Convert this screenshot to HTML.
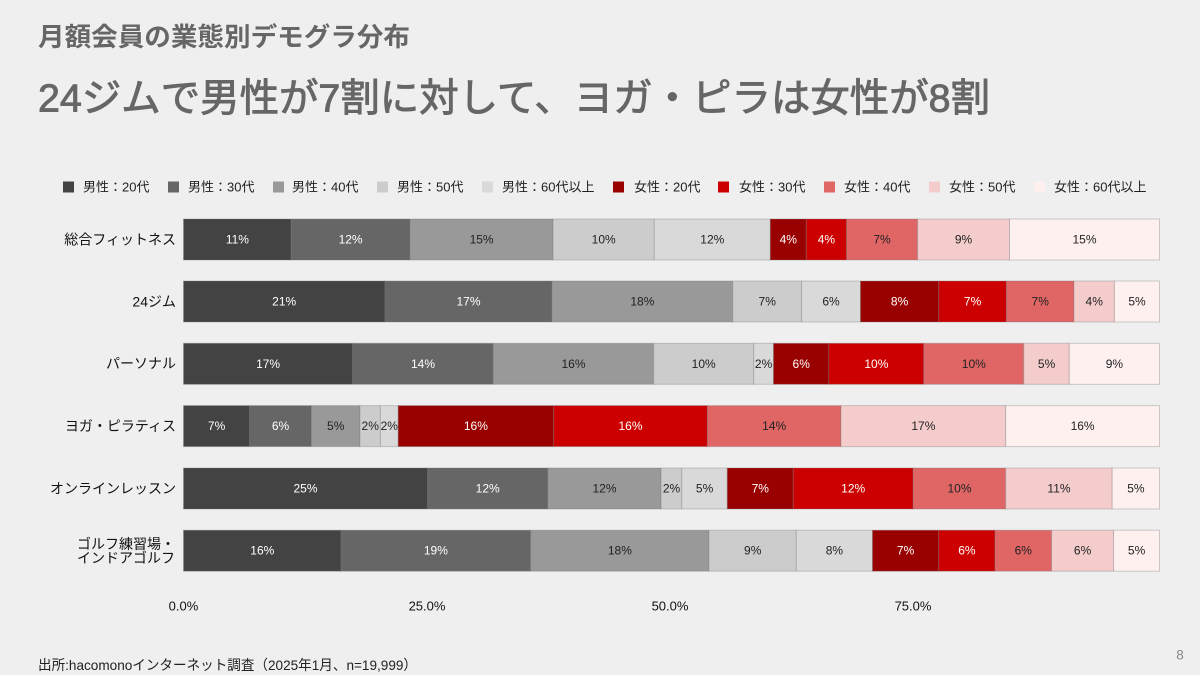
<!DOCTYPE html>
<html>
<head>
<meta charset="utf-8">
<style>
  html, body { margin: 0; padding: 0; background: #efefef; }
  body { width: 1200px; height: 675px; overflow: hidden; }
  svg { display: block; }
  text { font-family: "Liberation Sans", "Noto Sans CJK JP", sans-serif; }
</style>
</head>
<body>
<svg width="1200" height="675" viewBox="0 0 1200 675" xmlns="http://www.w3.org/2000/svg">
  <rect x="0" y="0" width="1200" height="675" fill="#efefef"/>

  <!-- Titles -->
  <text x="38" y="37" font-size="26" font-weight="bold" fill="#666666" dominant-baseline="central" textLength="372" lengthAdjust="spacingAndGlyphs">月額会員の業態別デモグラ分布</text>
  <text x="38" y="99" font-size="39" font-weight="normal" fill="#666666" stroke="#666666" stroke-width="0.9" dominant-baseline="central" textLength="952" lengthAdjust="spacingAndGlyphs">24ジムで男性が7割に対して、ヨガ・ピラは女性が8割</text>

  <!-- Legend -->
  <g font-size="13" fill="#222" dominant-baseline="central">
    <rect x="63" y="181.5" width="11" height="11" fill="#434343"/><text x="83" y="187">男性：20代</text>
    <rect x="168" y="181.5" width="11" height="11" fill="#666666"/><text x="188" y="187">男性：30代</text>
    <rect x="273" y="181.5" width="11" height="11" fill="#999999"/><text x="292" y="187">男性：40代</text>
    <rect x="377" y="181.5" width="11" height="11" fill="#cccccc"/><text x="397" y="187">男性：50代</text>
    <rect x="482" y="181.5" width="11" height="11" fill="#d9d9d9"/><text x="502" y="187">男性：60代以上</text>
    <rect x="613" y="181.5" width="11" height="11" fill="#990000"/><text x="634" y="187">女性：20代</text>
    <rect x="718" y="181.5" width="11" height="11" fill="#cc0000"/><text x="739" y="187">女性：30代</text>
    <rect x="824" y="181.5" width="11" height="11" fill="#e06666"/><text x="844" y="187">女性：40代</text>
    <rect x="929" y="181.5" width="11" height="11" fill="#f4cccc"/><text x="949" y="187">女性：50代</text>
    <rect x="1034" y="181.5" width="11" height="11" fill="#fff0f0"/><text x="1054" y="187">女性：60代以上</text>
  </g>

  <!-- Category labels -->
  <g font-size="14" fill="#111" text-anchor="end" dominant-baseline="central">
    <text x="176" y="239.5">総合フィットネス</text>
    <text x="176" y="301.5">24ジム</text>
    <text x="176" y="363.5">パーソナル</text>
    <text x="176" y="426">ヨガ・ピラティス</text>
    <text x="176" y="488.5">オンラインレッスン</text>
    <text x="175" y="544">ゴルフ練習場・</text>
    <text x="175" y="558">インドアゴルフ</text>
  </g>

  <!-- Axis labels -->
  <g font-size="13" fill="#111" text-anchor="middle" dominant-baseline="central">
    <text x="183.5" y="606">0.0%</text>
    <text x="427" y="606">25.0%</text>
    <text x="670" y="606">50.0%</text>
    <text x="913" y="606">75.0%</text>
  </g>

  <!-- Footer -->
  <text x="38" y="665" font-size="14" fill="#222" dominant-baseline="central" textLength="379" lengthAdjust="spacingAndGlyphs">出所:hacomonoインターネット調査（2025年1月、n=19,999）</text>
  <text x="1180" y="655" font-size="13.5" fill="#888" text-anchor="middle" dominant-baseline="central">8</text>

  <!-- Bars -->
  <g stroke="rgba(120,120,120,0.35)" stroke-width="1">
    <!-- Row 1 -->
    <rect x="183.5" y="219" width="107.7" height="41" fill="#434343"/>
    <rect x="291.2" y="219" width="118.8" height="41" fill="#666666"/>
    <rect x="410" y="219" width="143.1" height="41" fill="#999999"/>
    <rect x="553.1" y="219" width="101.2" height="41" fill="#cccccc"/>
    <rect x="654.3" y="219" width="116" height="41" fill="#d9d9d9"/>
    <rect x="770.3" y="219" width="36" height="41" fill="#990000"/>
    <rect x="806.3" y="219" width="40.2" height="41" fill="#cc0000"/>
    <rect x="846.5" y="219" width="71.1" height="41" fill="#e06666"/>
    <rect x="917.6" y="219" width="91.9" height="41" fill="#f4cccc"/>
    <rect x="1009.5" y="219" width="150" height="41" fill="#fff0f0"/>
    <!-- Row 2 -->
    <rect x="183.5" y="281" width="201.5" height="41" fill="#434343"/>
    <rect x="385" y="281" width="167" height="41" fill="#666666"/>
    <rect x="552" y="281" width="180.8" height="41" fill="#999999"/>
    <rect x="732.8" y="281" width="68.8" height="41" fill="#cccccc"/>
    <rect x="801.6" y="281" width="58.9" height="41" fill="#d9d9d9"/>
    <rect x="860.5" y="281" width="78.3" height="41" fill="#990000"/>
    <rect x="938.8" y="281" width="67.6" height="41" fill="#cc0000"/>
    <rect x="1006.4" y="281" width="67.6" height="41" fill="#e06666"/>
    <rect x="1074" y="281" width="40.4" height="41" fill="#f4cccc"/>
    <rect x="1114.4" y="281" width="45.1" height="41" fill="#fff0f0"/>
    <!-- Row 3 -->
    <rect x="183.5" y="343.3" width="169.2" height="41" fill="#434343"/>
    <rect x="352.7" y="343.3" width="140.6" height="41" fill="#666666"/>
    <rect x="493.3" y="343.3" width="160.4" height="41" fill="#999999"/>
    <rect x="653.7" y="343.3" width="100" height="41" fill="#cccccc"/>
    <rect x="753.7" y="343.3" width="19.8" height="41" fill="#d9d9d9"/>
    <rect x="773.5" y="343.3" width="55.4" height="41" fill="#990000"/>
    <rect x="828.9" y="343.3" width="94.9" height="41" fill="#cc0000"/>
    <rect x="923.8" y="343.3" width="100" height="41" fill="#e06666"/>
    <rect x="1023.8" y="343.3" width="45.5" height="41" fill="#f4cccc"/>
    <rect x="1069.3" y="343.3" width="90.2" height="41" fill="#fff0f0"/>
    <!-- Row 4 -->
    <rect x="183.5" y="405.6" width="66.1" height="41" fill="#434343"/>
    <rect x="249.6" y="405.6" width="61.8" height="41" fill="#666666"/>
    <rect x="311.4" y="405.6" width="48.6" height="41" fill="#999999"/>
    <rect x="360" y="405.6" width="20.4" height="41" fill="#cccccc"/>
    <rect x="380.4" y="405.6" width="17.8" height="41" fill="#d9d9d9"/>
    <rect x="398.2" y="405.6" width="155.4" height="41" fill="#990000"/>
    <rect x="553.6" y="405.6" width="153.8" height="41" fill="#cc0000"/>
    <rect x="707.4" y="405.6" width="133.6" height="41" fill="#e06666"/>
    <rect x="841" y="405.6" width="164.7" height="41" fill="#f4cccc"/>
    <rect x="1005.7" y="405.6" width="153.8" height="41" fill="#fff0f0"/>
    <!-- Row 5 -->
    <rect x="183.5" y="468" width="244" height="41" fill="#434343"/>
    <rect x="427.5" y="468" width="120.4" height="41" fill="#666666"/>
    <rect x="547.9" y="468" width="113.2" height="41" fill="#999999"/>
    <rect x="661.1" y="468" width="20.7" height="41" fill="#cccccc"/>
    <rect x="681.8" y="468" width="45.5" height="41" fill="#d9d9d9"/>
    <rect x="727.3" y="468" width="65.9" height="41" fill="#990000"/>
    <rect x="793.2" y="468" width="120" height="41" fill="#cc0000"/>
    <rect x="913.2" y="468" width="92.5" height="41" fill="#e06666"/>
    <rect x="1005.7" y="468" width="106.5" height="41" fill="#f4cccc"/>
    <rect x="1112.2" y="468" width="47.3" height="41" fill="#fff0f0"/>
    <!-- Row 6 -->
    <rect x="183.5" y="530.2" width="157.5" height="41" fill="#434343"/>
    <rect x="341" y="530.2" width="189.7" height="41" fill="#666666"/>
    <rect x="530.7" y="530.2" width="178.3" height="41" fill="#999999"/>
    <rect x="709" y="530.2" width="87.3" height="41" fill="#cccccc"/>
    <rect x="796.3" y="530.2" width="76.2" height="41" fill="#d9d9d9"/>
    <rect x="872.5" y="530.2" width="66.2" height="41" fill="#990000"/>
    <rect x="938.7" y="530.2" width="56.3" height="41" fill="#cc0000"/>
    <rect x="995" y="530.2" width="56.6" height="41" fill="#e06666"/>
    <rect x="1051.6" y="530.2" width="62" height="41" fill="#f4cccc"/>
    <rect x="1113.6" y="530.2" width="45.9" height="41" fill="#fff0f0"/>
  </g>

  <!-- Segment labels -->
  <g font-size="12" text-anchor="middle" dominant-baseline="central">
    <!-- Row 1 -->
    <text x="237.4" y="239.5" fill="#fff">11%</text>
    <text x="350.6" y="239.5" fill="#fff">12%</text>
    <text x="481.6" y="239.5" fill="#222">15%</text>
    <text x="603.7" y="239.5" fill="#222">10%</text>
    <text x="712.3" y="239.5" fill="#222">12%</text>
    <text x="788.3" y="239.5" fill="#fff">4%</text>
    <text x="826.4" y="239.5" fill="#fff">4%</text>
    <text x="882" y="239.5" fill="#222">7%</text>
    <text x="963.5" y="239.5" fill="#222">9%</text>
    <text x="1084.5" y="239.5" fill="#222">15%</text>
    <!-- Row 2 -->
    <text x="284.2" y="301.5" fill="#fff">21%</text>
    <text x="468.5" y="301.5" fill="#fff">17%</text>
    <text x="642.4" y="301.5" fill="#222">18%</text>
    <text x="767.2" y="301.5" fill="#222">7%</text>
    <text x="831" y="301.5" fill="#222">6%</text>
    <text x="899.6" y="301.5" fill="#fff">8%</text>
    <text x="972.6" y="301.5" fill="#fff">7%</text>
    <text x="1040.2" y="301.5" fill="#222">7%</text>
    <text x="1094.2" y="301.5" fill="#222">4%</text>
    <text x="1137" y="301.5" fill="#222">5%</text>
    <!-- Row 3 -->
    <text x="268.1" y="363.8" fill="#fff">17%</text>
    <text x="423" y="363.8" fill="#fff">14%</text>
    <text x="573.5" y="363.8" fill="#222">16%</text>
    <text x="703.7" y="363.8" fill="#222">10%</text>
    <text x="763.6" y="363.8" fill="#222">2%</text>
    <text x="801.2" y="363.8" fill="#fff">6%</text>
    <text x="876.4" y="363.8" fill="#fff">10%</text>
    <text x="973.8" y="363.8" fill="#222">10%</text>
    <text x="1046.6" y="363.8" fill="#222">5%</text>
    <text x="1114.4" y="363.8" fill="#222">9%</text>
    <!-- Row 4 -->
    <text x="216.6" y="426.1" fill="#fff">7%</text>
    <text x="280.5" y="426.1" fill="#fff">6%</text>
    <text x="335.7" y="426.1" fill="#222">5%</text>
    <text x="370.2" y="426.1" fill="#222">2%</text>
    <text x="389.3" y="426.1" fill="#222">2%</text>
    <text x="475.9" y="426.1" fill="#fff">16%</text>
    <text x="630.5" y="426.1" fill="#fff">16%</text>
    <text x="774.2" y="426.1" fill="#222">14%</text>
    <text x="923.4" y="426.1" fill="#222">17%</text>
    <text x="1082.6" y="426.1" fill="#222">16%</text>
    <!-- Row 5 -->
    <text x="305.5" y="488.5" fill="#fff">25%</text>
    <text x="487.7" y="488.5" fill="#fff">12%</text>
    <text x="604.5" y="488.5" fill="#222">12%</text>
    <text x="671.5" y="488.5" fill="#222">2%</text>
    <text x="704.6" y="488.5" fill="#222">5%</text>
    <text x="760.3" y="488.5" fill="#fff">7%</text>
    <text x="853.2" y="488.5" fill="#fff">12%</text>
    <text x="959.5" y="488.5" fill="#222">10%</text>
    <text x="1059" y="488.5" fill="#222">11%</text>
    <text x="1135.9" y="488.5" fill="#222">5%</text>
    <!-- Row 6 -->
    <text x="262.3" y="550.7" fill="#fff">16%</text>
    <text x="435.9" y="550.7" fill="#fff">19%</text>
    <text x="619.9" y="550.7" fill="#222">18%</text>
    <text x="752.7" y="550.7" fill="#222">9%</text>
    <text x="834.4" y="550.7" fill="#222">8%</text>
    <text x="905.6" y="550.7" fill="#fff">7%</text>
    <text x="966.9" y="550.7" fill="#fff">6%</text>
    <text x="1023.3" y="550.7" fill="#222">6%</text>
    <text x="1082.6" y="550.7" fill="#222">6%</text>
    <text x="1136.6" y="550.7" fill="#222">5%</text>
  </g>
</svg>
</body>
</html>
